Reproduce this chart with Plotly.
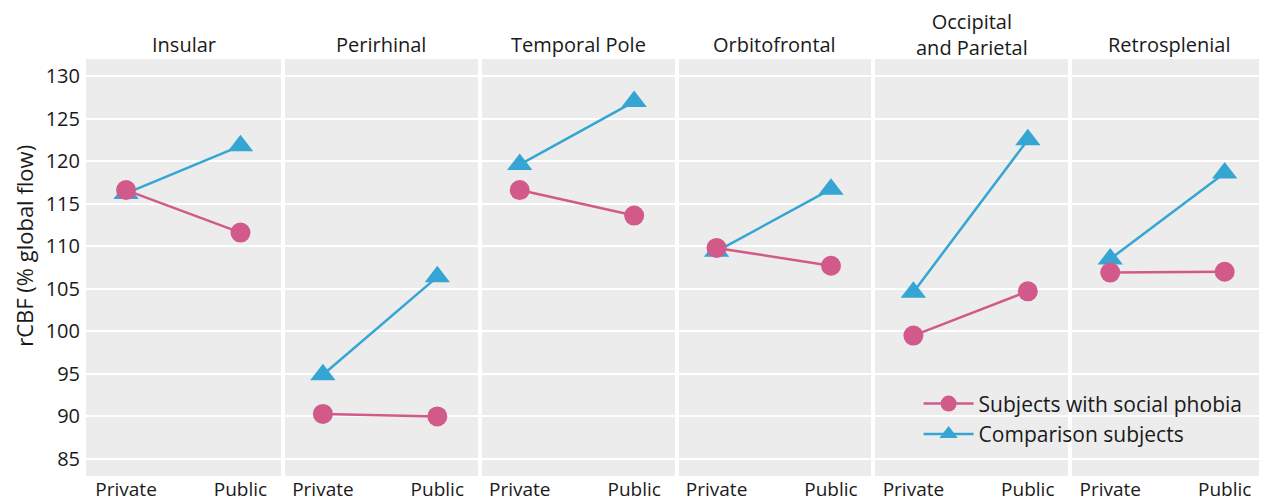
import plotly.graph_objects as go
from plotly.subplots import make_subplots

regions = ["Insular", "Perirhinal", "Temporal Pole", "Orbitofrontal",
           "Occipital<br>and Parietal", "Retrosplenial"]
conditions = ["Private", "Public"]
phobia_private = [116.6, 90.3, 116.6, 109.8, 99.5, 106.9]
phobia_public = [111.6, 90.0, 113.6, 107.7, 104.7, 107.0]
comp_private = [116.2, 94.9, 119.6, 109.4, 104.6, 108.5]
comp_public = [121.8, 106.4, 127.0, 116.7, 122.5, 118.6]
y_ticks = [85, 90, 95, 100, 105, 110, 115, 120, 125, 130]

pink = "#d15a8b"
blue = "#35a5d3"
font = "Open Sans"
txt = "#1a1a1a"

fig = make_subplots(rows=1, cols=6, shared_yaxes=True, horizontal_spacing=0,
                    subplot_titles=regions)

for i in range(6):
    col = i + 1
    fig.add_trace(go.Scatter(
        x=conditions, y=[comp_private[i], comp_public[i]], mode="lines+markers",
        name="Comparison subjects", legendgroup="c", showlegend=(i == 0),
        line=dict(color=blue, width=2.5),
        marker=dict(symbol="triangle-up", size=22, color=blue),
        legendrank=2), row=1, col=col)
    fig.add_trace(go.Scatter(
        x=conditions, y=[phobia_private[i], phobia_public[i]], mode="lines+markers",
        name="Subjects with social phobia", legendgroup="p", showlegend=(i == 0),
        line=dict(color=pink, width=2.5),
        marker=dict(symbol="circle", size=20, color=pink),
        legendrank=1), row=1, col=col)

fig.update_xaxes(type="category", range=[-0.35, 1.37], showgrid=False,
                 zeroline=False, showline=False, ticks="", automargin=False,
                 tickfont=dict(size=19, color=txt, family=font),
                 ticklabelstandoff=0)
fig.update_yaxes(range=[83, 132], tickvals=y_ticks, showgrid=True,
                 gridcolor="white", gridwidth=2, zeroline=False,
                 showline=True, mirror=True, linecolor="white", linewidth=2,
                 ticks="", automargin=False,
                 tickfont=dict(size=20, color=txt, family=font))

for ann in fig.layout.annotations:
    ann.font = dict(size=20, color=txt, family=font)
    ann.yshift = -4 if "<br>" in ann.text else -1

fig.add_annotation(text="rCBF (% global flow)", xref="paper", yref="paper",
                   x=-0.0525, y=0.552, textangle=-90, showarrow=False,
                   xanchor="center", yanchor="middle",
                   font=dict(size=22, color=txt, family=font))

fig.update_layout(
    width=1259, height=494,
    margin=dict(l=78, r=0, t=51, b=26, autoexpand=False),
    plot_bgcolor="#ececec", paper_bgcolor="white",
    font=dict(family=font, size=20, color=txt),
    legend=dict(x=0.705, y=0.222, xanchor="left", yanchor="top",
                bgcolor="rgba(0,0,0,0)", font=dict(size=21, family=font, color=txt),
                itemwidth=50, tracegroupgap=0),
)

fig.write_html("out.html")
